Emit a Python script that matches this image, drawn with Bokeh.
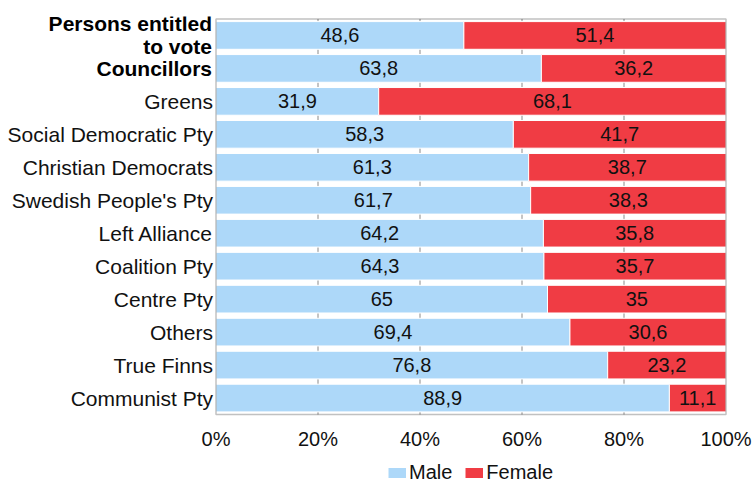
from bokeh.plotting import figure
from bokeh.layouts import column
from bokeh.models import (Range1d, FixedTicker, Legend, LegendItem,
                          ColumnDataSource, BoxAnnotation)
from bokeh.core.properties import value
from bokeh.embed import file_html
from bokeh.resources import INLINE

categories = ["Persons entitled\nto vote", "Councillors", "Greens",
              "Social Democratic Pty", "Christian Democrats",
              "Swedish People's Pty", "Left Alliance", "Coalition Pty",
              "Centre Pty", "Others", "True Finns", "Communist Pty"]
male = [48.6, 63.8, 31.9, 58.3, 61.3, 61.7, 64.2, 64.3, 65, 69.4, 76.8, 88.9]
female = [51.4, 36.2, 68.1, 41.7, 38.7, 38.3, 35.8, 35.7, 35, 30.6, 23.2, 11.1]
bold_categories = ["Persons entitled\nto vote", "Councillors"]
series = ["Male", "Female"]
x_ticks = [0, 20, 40, 60, 80, 100]
x_tick_labels = ["0%", "20%", "40%", "60%", "80%", "100%"]

BLUE = "#ADD8F9"
RED = "#F03C44"
FONT = "Liberation Sans"
TXT = "#111111"

n = len(categories)
ypos = [n - 1 - i for i in range(n)]


def fmt(v):
    s = ("%.1f" % v).rstrip("0").rstrip(".")
    return s.replace(".", ",")


src = ColumnDataSource(dict(
    y=ypos,
    male=male,
    total=[m + f for m, f in zip(male, female)],
    mmid=[m / 2 for m in male],
    fmid=[m + f / 2 for m, f in zip(male, female)],
    mlab=[fmt(v) for v in male],
    flab=[fmt(v) for v in female],
    zero=[0] * n,
))

plain_src = ColumnDataSource(dict(
    y=[y for y, c in zip(ypos, categories) if c not in bold_categories],
    t=[c for c in categories if c not in bold_categories],
    x=[0] * (n - len(bold_categories)),
))
bold_src = ColumnDataSource(dict(
    y=[y for y, c in zip(ypos, categories) if c in bold_categories],
    t=[c for c in categories if c in bold_categories],
    x=[0] * len(bold_categories),
))

# ---- geometry of the main frame (pixels) ----
PX_X = 5.1          # pixels per percent
ZERO_X = 215.5      # pixel position of 0 %
FRAME_R = 728
BAND = 33.375       # pixels per category
TOP_PAD, BOT_PAD = 2.5, 2.0
H1 = 452

x_start = -ZERO_X / PX_X
x_end = (FRAME_R - ZERO_X) / PX_X
y_start = -0.5 - BOT_PAD / BAND
y_end = n - 0.5 + TOP_PAD / BAND

p = figure(width=752, height=H1, output_backend="svg", toolbar_location=None,
           x_range=Range1d(x_start, x_end), y_range=Range1d(y_start, y_end),
           y_axis_location=None,
           min_border_left=0, min_border_right=752 - FRAME_R,
           min_border_top=16, min_border_bottom=31)
p.background_fill_color = "white"
p.border_fill_color = "white"
p.outline_line_color = None
p.xgrid.visible = False
p.ygrid.visible = False

# vertical grid lines inside the plot box
grid_x = x_ticks[1:-1]
p.segment(x0=grid_x, x1=grid_x, y0=[-0.5] * len(grid_x),
          y1=[n - 0.5] * len(grid_x), line_color="#8a8a8a", line_width=1)

r_m = p.hbar(y="y", left="zero", right="male", height=0.84, source=src,
             fill_color=BLUE, line_color="white", line_width=1)
r_f = p.hbar(y="y", left="male", right="total", height=0.84, source=src,
             fill_color=RED, line_color="white", line_width=1)

p.text(x="mmid", y="y", text="mlab", source=src, text_align="center",
       text_baseline="middle", text_font=value(FONT), text_font_size="20px",
       text_color=TXT)
p.text(x="fmid", y="y", text="flab", source=src, text_align="center",
       text_baseline="middle", text_font=value(FONT), text_font_size="20px",
       text_color=TXT)

# category labels
p.text(x="x", y="y", text="t", source=plain_src, x_offset=-3,
       text_align="right", text_baseline="middle", text_font=value(FONT),
       text_font_size="21px", text_color=TXT)
p.text(x="x", y="y", text="t", source=bold_src, x_offset=-4,
       text_align="right", text_baseline="middle", text_font=value(FONT),
       text_font_size="21px", text_font_style="bold", text_color="#000000",
       text_line_height=1.0)

# plot box border
p.add_layout(BoxAnnotation(left=x_ticks[0], right=x_ticks[-1], bottom=-0.5,
                           top=n - 0.5, fill_alpha=0, line_color="#333333",
                           line_width=1.5))

# x axis
p.xaxis.ticker = FixedTicker(ticks=x_ticks)
p.xaxis.major_label_overrides = {t: l for t, l in zip(x_ticks, x_tick_labels)}
p.xaxis.major_tick_line_color = None
p.xaxis.minor_tick_line_color = None
p.xaxis.axis_line_color = None
p.xaxis.major_label_text_font = FONT
p.xaxis.major_label_text_font_size = "20px"
p.xaxis.major_label_text_color = TXT
p.xaxis.major_label_standoff = 5

# ---- legend strip ----
H2 = 484 - H1
q = figure(width=752, height=H2, output_backend="svg", toolbar_location=None,
           x_range=Range1d(0, 752), y_range=Range1d(0, H2),
           x_axis_location=None, y_axis_location=None,
           min_border=0, min_border_left=0, min_border_right=0,
           min_border_top=0, min_border_bottom=0)
q.outline_line_color = None
q.xgrid.visible = False
q.ygrid.visible = False
nan = float("nan")
sw_m = q.line(x=[nan], y=[nan], line_color=BLUE, line_width=10,
              line_cap="butt")
sw_f = q.line(x=[nan], y=[nan], line_color=RED, line_width=10,
              line_cap="butt")
legend = Legend(items=[LegendItem(label=series[0], renderers=[sw_m]),
                       LegendItem(label=series[1], renderers=[sw_f])],
                orientation="horizontal", location=(388, 0),
                glyph_width=18, glyph_height=23, label_standoff=3,
                spacing=13, padding=0, margin=0, label_height=23,
                label_text_font=FONT, label_text_font_size="20px",
                label_text_color=TXT, border_line_color=None,
                background_fill_alpha=0)
q.add_layout(legend, "center")

layout = column(p, q, spacing=0)
open("out.html", "w").write(file_html(layout, INLINE))
